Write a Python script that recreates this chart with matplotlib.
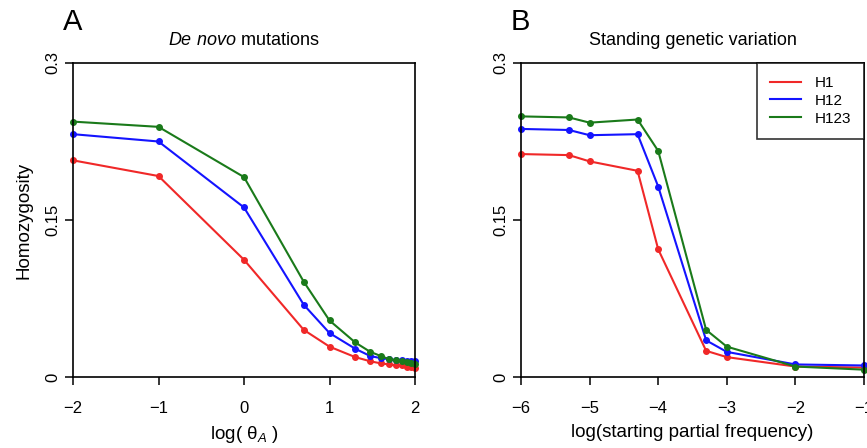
import numpy as np
import matplotlib
matplotlib.use("Agg")
import matplotlib.pyplot as plt

plt.rcParams['font.family'] = ['Liberation Sans', 'DejaVu Sans']
plt.rcParams['mathtext.fontset'] = 'custom'
plt.rcParams['mathtext.rm'] = 'Liberation Sans'
plt.rcParams['mathtext.it'] = 'Liberation Sans:italic'

# Panel A: de novo mutations
xA = [-2, -1, 0, 0.699, 1, 1.301, 1.477, 1.602, 1.699, 1.778, 1.845, 1.903, 1.954, 2.0]
A_H1 = [0.207, 0.192, 0.112, 0.045, 0.029, 0.019, 0.015, 0.013, 0.012, 0.011, 0.011, 0.010, 0.010, 0.009]
A_H12 = [0.232, 0.225, 0.162, 0.069, 0.042, 0.027, 0.020, 0.018, 0.017, 0.016, 0.016, 0.015, 0.015, 0.015]
A_H123 = [0.244, 0.239, 0.191, 0.091, 0.054, 0.033, 0.024, 0.020, 0.017, 0.016, 0.015, 0.014, 0.013, 0.012]

# Panel B: standing genetic variation
xB = [-6, -5.301, -5, -4.301, -4, -3.301, -3, -2, -1]
B_H1 = [0.213, 0.212, 0.206, 0.197, 0.122, 0.025, 0.019, 0.010, 0.009]
B_H12 = [0.237, 0.236, 0.231, 0.232, 0.182, 0.035, 0.024, 0.012, 0.011]
B_H123 = [0.249, 0.248, 0.243, 0.246, 0.216, 0.045, 0.029, 0.010, 0.007]

labels = ['H1', 'H12', 'H123']
colors = ['#f02828', '#1414ff', '#1a7a1a']

fig = plt.figure(figsize=(8.67, 4.48), dpi=100)
axA = fig.add_axes([73/867, 71/448, 342/867, 314/448])
axB = fig.add_axes([521/867, 71/448, 343/867, 314/448])

def style(ax):
    for s in ax.spines.values():
        s.set_linewidth(1.2)
        s.set_color('black')
    ax.set_ylim(0, 0.3)
    ax.set_yticks([0, 0.15, 0.3])
    ax.set_yticklabels(['0', '0.15', '0.3'], rotation=90, va='center')
    ax.tick_params(direction='out', length=6, width=1.1, labelsize=12, color='black')
    ax.tick_params(axis='x', pad=11)
    ax.tick_params(axis='y', pad=3)

for ys, c, l in zip([A_H1, A_H12, A_H123], colors, labels):
    axA.plot(xA, ys, color=c, lw=1.5, marker='o', ms=4, label=l, clip_on=False)
axA.set_xlim(-2, 2)
axA.set_xticks([-2, -1, 0, 1, 2])
axA.set_xticklabels(['\u22122', '\u22121', '0', '1', '2'])
style(axA)
axA.set_title(r'$\mathit{De\ novo}$ mutations', fontsize=13, pad=13)
axA.set_xlabel(r'log( θ$_{\mathit{A}}$ )', fontsize=13.5, labelpad=6)
axA.set_ylabel('Homozygosity', fontsize=13.5, labelpad=9)

for ys, c, l in zip([B_H1, B_H12, B_H123], colors, labels):
    axB.plot(xB, ys, color=c, lw=1.5, marker='o', ms=4, label=l, clip_on=False)
axB.set_xlim(-6, -1)
axB.set_xticks([-6, -5, -4, -3, -2, -1])
axB.set_xticklabels(['\u22126', '\u22125', '\u22124', '\u22123', '\u22122', '\u22121'])
style(axB)
axB.set_title('Standing genetic variation', fontsize=13, pad=13)
axB.set_xlabel('log(starting partial frequency)', fontsize=13.5, labelpad=6)
leg = axB.legend(loc='upper right', fontsize=11, frameon=True, fancybox=False,
                 handlelength=2.0, borderpad=0.85, labelspacing=0.25,
                 borderaxespad=0.0, handletextpad=0.9)
for h in leg.legend_handles:
    h.set_marker('')
    h.set_linewidth(1.5)
leg.get_frame().set_edgecolor('black')
leg.get_frame().set_linewidth(1.2)

fig.text(63/867, 1 - 22/448, 'A', fontsize=21, va='center', ha='left')
fig.text(511/867, 1 - 22/448, 'B', fontsize=21, va='center', ha='left')

fig.savefig('out.png', dpi=100)
